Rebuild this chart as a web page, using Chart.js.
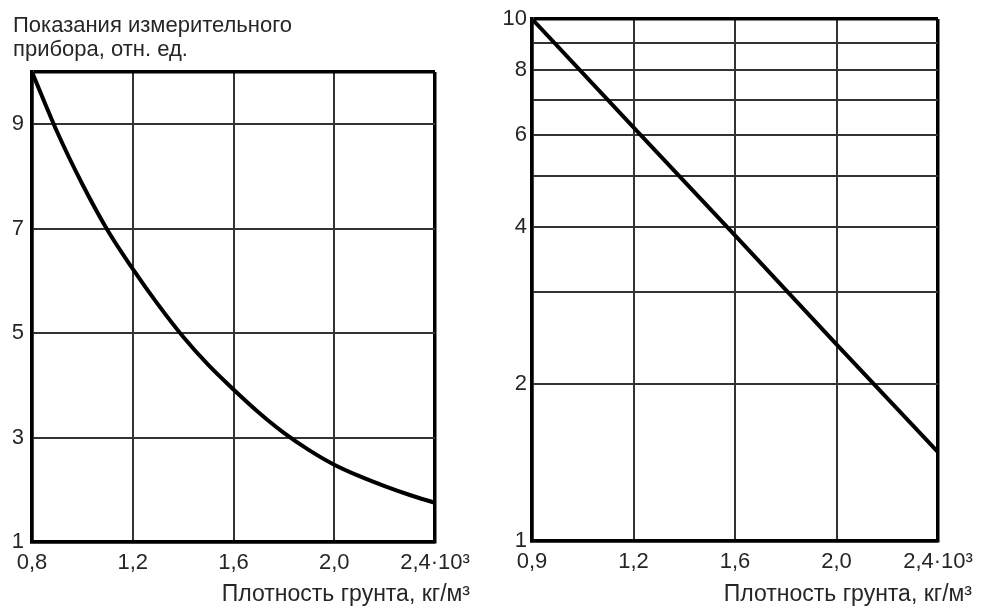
<!DOCTYPE html>
<html>
<head>
<meta charset="utf-8">
<script src="https://cdn.jsdelivr.net/npm/chart.js@4.4.1/dist/chart.umd.min.js"></script>
<style>
  html, body { margin: 0; padding: 0; background: #fff; }
  body { width: 983px; height: 608px; position: relative; overflow: hidden; }
  .box { position: absolute; top: 0; height: 608px; }
  #leftBox { left: 0; width: 490px; }
  #rightBox { left: 490px; width: 493px; }
</style>
</head>
<body>
<div class="box" id="leftBox"><canvas id="leftChart"></canvas></div>
<div class="box" id="rightBox"><canvas id="rightChart"></canvas></div>
<script>
// ---- Data ----
const yTitleLines = ['Показания измерительного', 'прибора, отн. ед.'];
const xTitle = 'Плотность грунта, кг/м³';

// Left chart (linear scales)
const leftDensity = [0.8, 0.9, 1.0, 1.1, 1.2, 1.3, 1.4, 1.5, 1.6, 1.7, 1.8, 1.9, 2.0, 2.1, 2.2, 2.3, 2.4];
const leftReading = [10, 8.85, 7.85, 6.97, 6.23, 5.55, 4.93, 4.39, 3.92, 3.48, 3.09, 2.76, 2.48, 2.26, 2.07, 1.90, 1.75];
const leftXTicks = [0.8, 1.2, 1.6, 2.0, 2.4];
const leftXTickLabels = ['0,8', '1,2', '1,6', '2,0', '2,4·10³'];
const leftYTicks = [1, 3, 5, 7, 9, 10];
const leftYTickLabels = ['1', '3', '5', '7', '9', ''];

// Right chart (log scale)
const rightXLabels = ['0,9', '1,2', '1,6', '2,0', '2,4·10³'];
const rightReading = [10, 6.2, 3.85, 2.38, 1.48];
const rightYTicks = [1, 2, 3, 4, 5, 6, 7, 8, 9, 10];
const rightYTickLabels = ['1', '2', '', '4', '', '6', '', '8', '', '10'];

// ---- Styles ----
const FONT = '"Liberation Sans", Arial, sans-serif';
const TEXT = '#262626';
const GRID = '#333';
const FRAME = '#000';
const FRAME_W = 3.5;
const GRID_W = 2;

function frameAware(lastIndexFn) {
  return (ctx) => (ctx.index === 0 || ctx.index === lastIndexFn()) ? FRAME_W : GRID_W;
}
function frameColor(lastIndexFn) {
  return (ctx) => (ctx.index === 0 || ctx.index === lastIndexFn()) ? FRAME : GRID;
}
function zeroPad(s) { s.paddingTop = 0; s.paddingBottom = 0; s.paddingLeft = 0; s.paddingRight = 0; }

Chart.defaults.font.family = FONT;
Chart.defaults.color = TEXT;

// ---- Left chart ----
new Chart(document.getElementById('leftChart'), {
  type: 'line',
  data: {
    datasets: [{
      data: leftDensity.map((x, i) => ({ x: x, y: leftReading[i] })),
      borderColor: '#000',
      borderWidth: 4,
      pointRadius: 0,
      cubicInterpolationMode: 'monotone',
      fill: false
    }]
  },
  options: {
    responsive: true,
    maintainAspectRatio: false,
    animation: false,
    layout: { padding: { left: 13, right: 20, top: 0, bottom: 0 } },
    plugins: {
      legend: { display: false },
      tooltip: { enabled: false },
      title: {
        display: true,
        text: yTitleLines,
        align: 'start',
        color: TEXT,
        font: { size: 22, weight: 'normal', lineHeight: 1.1 },
        padding: { top: 14, bottom: 9.6 }
      },
      subtitle: {
        display: true,
        position: 'bottom',
        text: xTitle,
        align: 'end',
        color: TEXT,
        font: { size: 23, weight: 'normal', lineHeight: 1.2 },
        padding: { top: 0, bottom: 0 }
      }
    },
    scales: {
      x: {
        type: 'linear',
        min: 0.8, max: 2.4,
        afterBuildTicks: (s) => { s.ticks = leftXTicks.map(v => ({ value: v })); },
        afterFit: (s) => { s.height = 38.4; zeroPad(s); },
        ticks: {
          autoSkip: false, maxRotation: 0, padding: 8,
          font: { size: 22 }, color: TEXT,
          callback: (v, i) => leftXTickLabels[i]
        },
        grid: {
          drawTicks: false,
          color: frameColor(() => leftXTicks.length - 1),
          lineWidth: frameAware(() => leftXTicks.length - 1)
        },
        border: { display: true, color: FRAME, width: FRAME_W }
      },
      y: {
        type: 'linear',
        min: 1, max: 10,
        afterBuildTicks: (s) => { s.ticks = leftYTicks.map(v => ({ value: v })); },
        afterFit: (s) => { s.width = 19; zeroPad(s); },
        ticks: {
          autoSkip: false, padding: 8,
          font: { size: 22 }, color: TEXT,
          callback: (v, i) => leftYTickLabels[i]
        },
        grid: {
          drawTicks: false,
          color: frameColor(() => leftYTicks.length - 1),
          lineWidth: frameAware(() => leftYTicks.length - 1)
        },
        border: { display: true, color: FRAME, width: FRAME_W }
      },
      y2: {
        type: 'linear',
        position: 'right',
        display: true,
        afterFit: (s) => { s.width = 35; zeroPad(s); },
        ticks: { display: false },
        grid: { display: false, drawTicks: false },
        border: { display: false }
      }
    }
  }
});

// ---- Right chart ----
new Chart(document.getElementById('rightChart'), {
  type: 'line',
  data: {
    labels: rightXLabels,
    datasets: [{
      data: rightReading,
      borderColor: '#000',
      borderWidth: 4,
      pointRadius: 0,
      tension: 0,
      fill: false
    }]
  },
  options: {
    responsive: true,
    maintainAspectRatio: false,
    animation: false,
    layout: { padding: { left: 0, right: 11, top: 19, bottom: 0 } },
    plugins: {
      legend: { display: false },
      tooltip: { enabled: false },
      subtitle: {
        display: true,
        position: 'bottom',
        text: xTitle,
        align: 'end',
        color: TEXT,
        font: { size: 23, weight: 'normal', lineHeight: 1.2 },
        padding: { top: 0, bottom: 0 }
      }
    },
    scales: {
      x: {
        type: 'category',
        offset: false,
        afterFit: (s) => { s.height = 39.4; zeroPad(s); },
        ticks: {
          autoSkip: false, maxRotation: 0, padding: 8,
          font: { size: 22 }, color: TEXT
        },
        grid: {
          offset: false,
          drawTicks: false,
          color: frameColor(() => rightXLabels.length - 1),
          lineWidth: frameAware(() => rightXLabels.length - 1)
        },
        border: { display: true, color: FRAME, width: FRAME_W }
      },
      y: {
        type: 'logarithmic',
        min: 1, max: 10,
        afterBuildTicks: (s) => { s.ticks = rightYTicks.map(v => ({ value: v })); },
        afterFit: (s) => { s.width = 42; zeroPad(s); },
        ticks: {
          autoSkip: false, padding: 5,
          font: { size: 22 }, color: TEXT,
          callback: (v, i) => rightYTickLabels[i]
        },
        grid: {
          drawTicks: false,
          color: frameColor(() => rightYTicks.length - 1),
          lineWidth: frameAware(() => rightYTicks.length - 1)
        },
        border: { display: true, color: FRAME, width: FRAME_W }
      },
      y2: {
        type: 'linear',
        position: 'right',
        display: true,
        afterFit: (s) => { s.width = 34; zeroPad(s); },
        ticks: { display: false },
        grid: { display: false, drawTicks: false },
        border: { display: false }
      }
    }
  }
});
</script>
</body>
</html>
